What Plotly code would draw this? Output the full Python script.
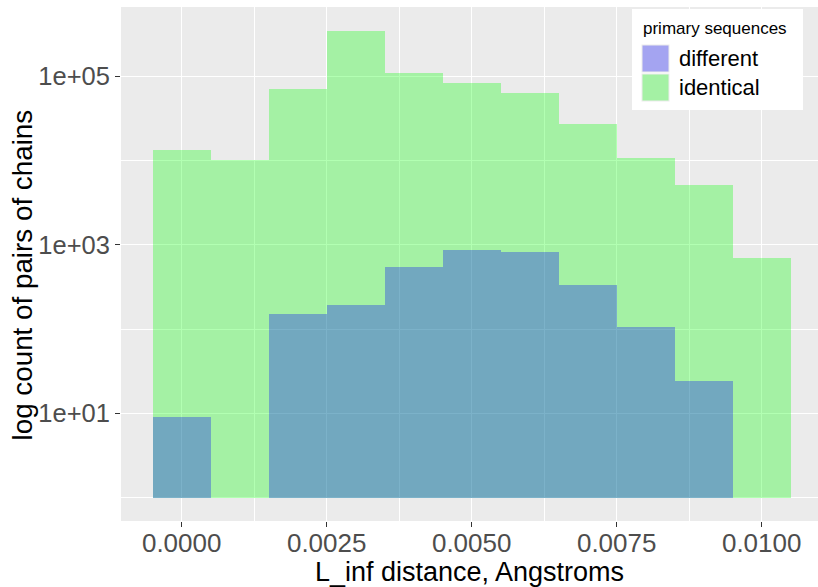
import plotly.graph_objects as go

# ---- data ----
bin_centers = [0.000, 0.001, 0.002, 0.003, 0.004, 0.005, 0.006, 0.007, 0.008, 0.009, 0.010]
bin_width = 0.001
identical_counts = [13200, 10150, 70100, 349000, 110600, 84100, 63900, 27400, 10800, 5180, 697]
different_counts = [9, 0, 151, 194, 548, 879, 819, 338, 106, 24, 0]

x_tickvals = [0.0, 0.0025, 0.005, 0.0075, 0.01]
y_tickvals = [10, 1000, 100000]
y_ticktext = ["1e+01", "1e+03", "1e+05"]
y_minor_vals = [1, 100, 10000]

series_names = ["different", "identical"]
series_colors = {"different": "rgba(0,0,255,0.3)", "identical": "rgba(0,255,0,0.3)"}

W, H = 818, 587
ML, MR, MT, MB = 121, 0, 7, 66
FONT = "Liberation Sans, Arial, sans-serif"

BAR_BASE = 1  # bars start at count 1 (log10 = 0)


def heights(counts):
    return [c - BAR_BASE if c > 0 else None for c in counts]


fig = go.Figure()
fig.add_trace(go.Bar(
    x=bin_centers, y=heights(identical_counts), base=BAR_BASE, width=bin_width,
    name="identical", marker=dict(color=series_colors["identical"], line=dict(width=0)),
    showlegend=False,
))
fig.add_trace(go.Bar(
    x=bin_centers, y=heights(different_counts), base=BAR_BASE, width=bin_width,
    name="different", marker=dict(color=series_colors["different"], line=dict(width=0)),
    showlegend=False,
))

pw = W - ML - MR
ph = H - MT - MB


def px(xp):
    return (xp - ML) / pw


def py(yp):
    return (H - MB - yp) / ph


shapes = []
annotations = []
# y axis title (placed as in the reference)
annotations.append(dict(xref="paper", yref="paper", x=px(22), y=py(275.5),
                        xanchor="center", yanchor="middle", showarrow=False,
                        textangle=-90, text="log count of pairs of chains",
                        font=dict(family=FONT, size=27.8, color="black")))
# legend box
shapes.append(dict(type="rect", xref="paper", yref="paper", layer="above",
                   x0=px(632), x1=px(803), y0=py(110), y1=py(9),
                   fillcolor="white", line=dict(width=0)))
annotations.append(dict(xref="paper", yref="paper", x=px(641), y=py(29),
                        xanchor="left", yanchor="middle", showarrow=False,
                        text="primary sequences",
                        font=dict(family=FONT, size=17, color="black")))
key_tops = [44.5, 73.5]
for name, top in zip(series_names, key_tops):
    shapes.append(dict(type="rect", xref="paper", yref="paper", layer="above",
                       x0=px(641.5), x1=px(669.5), y0=py(top + 28), y1=py(top),
                       fillcolor="#EBEBEB", line=dict(width=0)))
    shapes.append(dict(type="rect", xref="paper", yref="paper", layer="above",
                       x0=px(642.5), x1=px(668.5), y0=py(top + 27), y1=py(top + 1),
                       fillcolor=series_colors[name], line=dict(width=0)))
    annotations.append(dict(xref="paper", yref="paper", x=px(677), y=py(top + 14),
                            xanchor="left", yanchor="middle", showarrow=False,
                            text=name, font=dict(family=FONT, size=22, color="black")))

fig.update_layout(
    width=W, height=H,
    margin=dict(l=ML, r=MR, t=MT, b=MB, pad=0),
    paper_bgcolor="white",
    plot_bgcolor="#EBEBEB",
    barmode="overlay",
    bargap=0,
    font=dict(family=FONT),
    shapes=shapes,
    annotations=annotations,
    xaxis=dict(
        range=[(ML - 181.7) / 58000, (W - 181.7) / 58000],
        tickmode="array", tickvals=x_tickvals, tickformat=".4f",
        ticks="outside", ticklen=5, tickwidth=1.07, tickcolor="#333333",
        tickfont=dict(family=FONT, size=26, color="#4D4D4D"),
        ticklabelstandoff=-6,
        showgrid=True, gridcolor="white", gridwidth=1.4,
        minor=dict(dtick=0.00125, tick0=0, showgrid=True, gridcolor="white", gridwidth=0.7),
        zeroline=False, showline=False,
        title=dict(text="L_inf distance, Angstroms",
                   font=dict(family=FONT, size=27, color="black"), standoff=12),
        automargin=False,
    ),
    yaxis=dict(
        type="log",
        range=[-0.278, 5.824],
        tickmode="array", tickvals=y_tickvals, ticktext=y_ticktext,
        ticks="outside", ticklen=5, tickwidth=1.07, tickcolor="#333333",
        tickfont=dict(family=FONT, size=25.5, color="#4D4D4D"),
        showgrid=True, gridcolor="white", gridwidth=1.4,
        minor=dict(tickvals=y_minor_vals, showgrid=True, gridcolor="white", gridwidth=0.7),
        zeroline=False, showline=False,
        automargin=False,
    ),
)

fig.write_html("out.html", config={"displayModeBar": False},
               post_script="document.body.style.margin='0';")
